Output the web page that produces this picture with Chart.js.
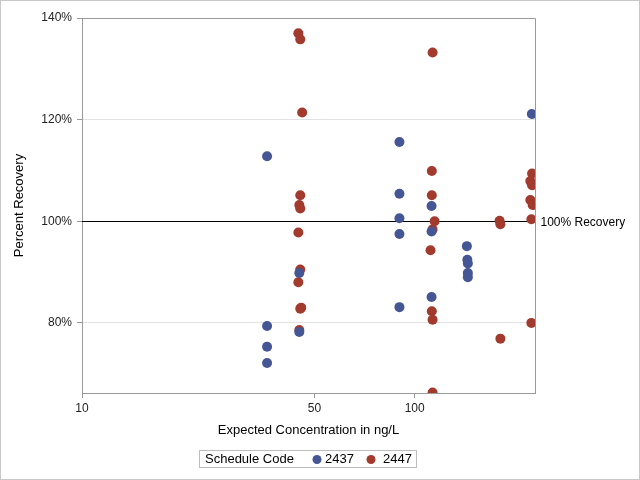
<!DOCTYPE html>
<html>
<head>
<meta charset="utf-8">
<script src="https://cdn.jsdelivr.net/npm/chart.js@4/dist/chart.umd.min.js"></script>
<style>
  html, body { margin: 0; padding: 0; background: #fff; }
</style>
</head>
<body>
<canvas id="chart" width="640" height="480"></canvas>
<script>
// expected concentration (ng/L) and percent recovery
const code2437X = [36, 36, 36, 36, 45.0, 45.0, 90, 90, 90, 90, 90, 112.4, 112.4, 112.4, 143.5, 144, 144.5, 144.5, 144.5, 225];
const code2437Y = [112.8, 79.4, 75.3, 72.1, 89.8, 78.2, 115.6, 105.4, 100.6, 97.5, 83.1, 103.0, 98.0, 85.1, 95.1, 92.4, 91.7, 89.8, 89.0, 121.1];

const code2447X = [44.7, 45.3, 45.9, 45.3, 45.0, 45.3, 44.7, 45.3, 44.7, 45.3, 45.6, 45.0,
                   113.2, 112.6, 112.6, 114.8, 113.2, 111.6, 112.6, 113.2, 113.2,
                   180, 181, 181,
                   225.4, 222.7, 225.4, 222.7, 226.3, 224.3, 224.3];
const code2447Y = [137.0, 135.8, 121.4, 105.1, 103.2, 102.5, 97.8, 90.5, 88.0, 82.8, 83.0, 78.6,
                   133.2, 109.9, 105.1, 100.0, 98.4, 94.3, 82.3, 80.6, 66.3,
                   100.1, 99.4, 76.9,
                   109.4, 107.9, 107.1, 104.2, 103.2, 100.4, 80.0];

const seriesNames = ['2437', '2447'];
const seriesColors = ['#445694', '#A23A2E'];
const xTicks = [10, 50, 100];
const yTicks = [80, 100, 120, 140];
const refValue = 100;
const refLabel = '100% Recovery';
const legendTitle = 'Schedule Code';

const FONT = "'Liberation Sans', Arial, sans-serif";

function toPoints(xs, ys) {
    return xs.map((x, i) => ({x: x, y: ys[i]}));
}

const refLinePlugin = {
    id: 'refLine',
    beforeDatasetsDraw(chart) {
        const ctx = chart.ctx;
        const area = chart.chartArea;
        const y = Math.round(chart.scales.y.getPixelForValue(refValue)) + 0.5;
        ctx.save();
        ctx.strokeStyle = '#000';
        ctx.lineWidth = 1;
        ctx.beginPath();
        ctx.moveTo(area.left, y);
        ctx.lineTo(area.right, y);
        ctx.stroke();
        ctx.restore();
    },
    afterDraw(chart) {
        const ctx = chart.ctx;
        const area = chart.chartArea;
        const y = chart.scales.y.getPixelForValue(refValue);
        ctx.save();
        ctx.fillStyle = '#000';
        ctx.font = '12px ' + FONT;
        ctx.textAlign = 'left';
        ctx.textBaseline = 'middle';
        ctx.fillText(refLabel, area.right + 5.5, y + 1);
        ctx.restore();
    }
};

const framePlugin = {
    id: 'frame',
    afterDraw(chart) {
        const ctx = chart.ctx;
        const area = chart.chartArea;
        ctx.save();
        ctx.strokeStyle = '#9a9a9a';
        ctx.lineWidth = 1;
        ctx.beginPath();
        ctx.moveTo(Math.round(area.left) + 0.5, Math.round(area.top) + 0.5);
        ctx.lineTo(Math.round(area.right) + 0.5, Math.round(area.top) + 0.5);
        ctx.lineTo(Math.round(area.right) + 0.5, Math.round(area.bottom) + 0.5);
        ctx.stroke();
        // outer border of the image
        ctx.strokeStyle = '#c8c8c8';
        ctx.strokeRect(0.5, 0.5, chart.width - 1, chart.height - 1);
        ctx.restore();
    }
};

const legendPlugin = {
    id: 'boxLegend',
    afterDraw(chart) {
        const ctx = chart.ctx;
        ctx.save();
        ctx.strokeStyle = '#bdbdbd';
        ctx.lineWidth = 1;
        ctx.strokeRect(199.5, 450.5, 217, 17);
        ctx.font = '13px ' + FONT;
        ctx.textBaseline = 'middle';
        ctx.fillStyle = '#000';
        ctx.fillText(legendTitle, 205, 459.5);
        const dotX = [317, 371];
        const textX = [325, 383];
        seriesNames.forEach((name, i) => {
            ctx.fillStyle = seriesColors[i];
            ctx.beginPath();
            ctx.arc(dotX[i], 459.5, 4.5, 0, Math.PI * 2);
            ctx.fill();
            ctx.fillStyle = '#000';
            ctx.fillText(name, textX[i], 459.5);
        });
        ctx.restore();
    }
};

const ctx = document.getElementById('chart').getContext('2d');
const chart = new Chart(ctx, {
    type: 'scatter',
    data: {
        datasets: [
            {label: seriesNames[0], data: toPoints(code2437X, code2437Y), backgroundColor: seriesColors[0]},
            {label: seriesNames[1], data: toPoints(code2447X, code2447Y), backgroundColor: seriesColors[1]}
        ]
    },
    options: {
        responsive: false,
        animation: false,
        devicePixelRatio: 1,
        layout: {padding: {top: 18, right: 105, bottom: 32, left: 0}},
        elements: {point: {radius: 5, borderWidth: 0, hoverRadius: 5}},
        datasets: {scatter: {clip: 0}},
        plugins: {legend: {display: false}, tooltip: {enabled: false}},
        scales: {
            x: {
                type: 'logarithmic',
                min: 10,
                max: 230,
                afterBuildTicks: scale => { scale.ticks = xTicks.map(v => ({value: v})); },
                afterFit: scale => { scale.height = 55; },
                grid: {drawOnChartArea: false, drawTicks: true, tickLength: 5, tickColor: '#9a9a9a'},
                border: {color: '#9a9a9a'},
                ticks: {
                    callback: v => String(v),
                    font: {family: FONT, size: 12},
                    color: '#222',
                    padding: 3,
                    maxRotation: 0
                },
                title: {
                    display: true,
                    text: 'Expected Concentration in ng/L',
                    font: {family: FONT, size: 13},
                    color: '#000',
                    padding: {top: 0, bottom: 10}
                }
            },
            y: {
                min: 66.2,
                max: 140,
                afterBuildTicks: scale => { scale.ticks = yTicks.map(v => ({value: v})); },
                afterFit: scale => { scale.width = 82; },
                grid: {
                    color: c => (c.tick && c.tick.value === 140) ? '#9a9a9a' : '#e2e2e2',
                    tickLength: 5,
                    tickColor: '#9a9a9a'
                },
                border: {color: '#9a9a9a'},
                ticks: {
                    callback: v => v + '%',
                    font: {family: FONT, size: 12},
                    color: '#222',
                    padding: 5
                },
                title: {
                    display: true,
                    text: 'Percent Recovery',
                    font: {family: FONT, size: 13},
                    color: '#000',
                    padding: {top: 12, bottom: 0}
                }
            }
        }
    },
    plugins: [refLinePlugin, framePlugin, legendPlugin]
});
</script>
</body>
</html>
